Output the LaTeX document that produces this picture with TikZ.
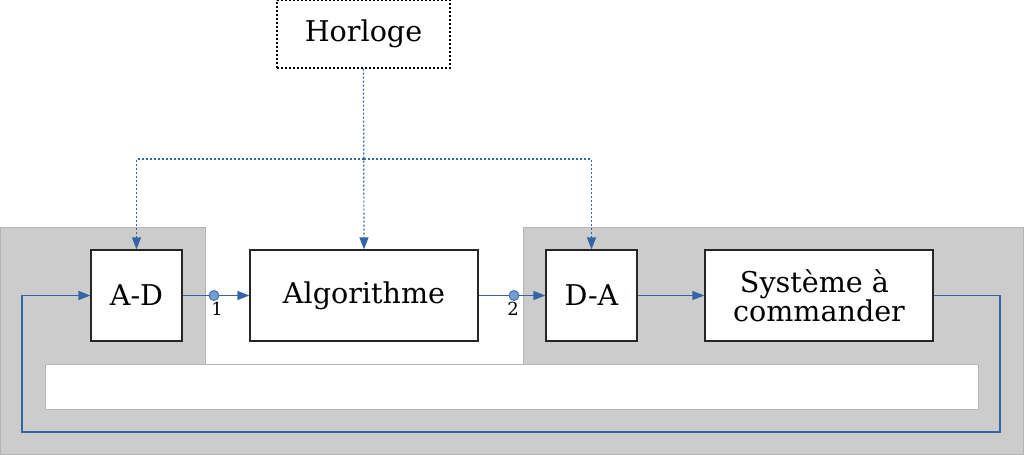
\documentclass[tikz,border=0pt]{standalone}
\usepackage{fontspec}
\setmainfont{DejaVu Serif}
\usetikzlibrary{arrows.meta}
\definecolor{lnk}{HTML}{3465A4}
\definecolor{bgc}{HTML}{CCCCCC}
\definecolor{bgline}{HTML}{B5B5B5}
\definecolor{dotfill}{HTML}{729FCF}
\begin{document}
\begin{tikzpicture}[x=0.5pt,y=-0.5pt,
  blk/.style={draw=black!85,line width=0.6pt,fill=white,inner sep=0pt,minimum height=45.5pt,font=\fontsize{14.3}{14.5}\selectfont,align=center},
  clockbox/.style={draw=black,line width=0.6pt,dash pattern=on 1pt off 1pt,fill=white,inner sep=0pt,minimum width=86.5pt,minimum height=34pt,font=\fontsize{14.3}{15}\selectfont},
  conn/.style={draw=lnk,line width=0.6pt,-{Triangle[length=6pt,width=4.5pt]}},
  plain/.style={draw=lnk,line width=0.6pt},
  clk/.style={draw=lnk,line width=0.6pt,dash pattern=on 1pt off 1pt,-{Triangle[length=6pt,width=4.5pt]}},
  dotn/.style={circle,draw=lnk,line width=0.4pt,fill=dotfill,inner sep=0pt,minimum size=5pt},
  lbl/.style={inner sep=0pt,font=\fontsize{9}{10}\selectfont}
]
\useasboundingbox (0,0) rectangle (1024,455);
\filldraw[fill=bgc,draw=bgline,line width=0.5pt] (0.5,227) -- (205,227) -- (205,364) -- (523,364) -- (523,227) -- (1023.5,227) -- (1023.5,454.5) -- (0.5,454.5) -- cycle;
\filldraw[fill=white,draw=bgline,line width=0.5pt] (45,364) rectangle (978,409);

\node[clockbox] (hor) at (363.5,34) {Horloge};
\node[blk,minimum width=45.5pt] (ad) at (136.5,295.5) {A-D};
\node[blk,minimum width=114pt] (alg) at (364,295.5) {Algorithme};
\node[blk,minimum width=45.5pt] (da) at (591.5,295.5) {D-A};
\node[blk,minimum width=114pt] (sys) at (819,295.5) {Système à\hspace*{0.32em}\\commander};

\node[dotn] (p1) at (214,295.5) {};
\node[dotn] (p2) at (514,295.5) {};
\node[lbl] (l1) at (217,309) {1};
\node[lbl] (l2) at (513,309) {2};

\coordinate (br) at (364,159);
\coordinate (fbR) at (1000,432);
\coordinate (fbL) at (22,432);

\draw[plain] (ad.east) -- (p1.west);
\draw[conn] (p1.east) -- (alg.west);
\draw[plain] (alg.east) -- (p2.west);
\draw[conn] (p2.east) -- (da.west);
\draw[conn] (da.east) -- (sys.west);
\draw[conn] (sys.east) -| (fbR) -- (fbL) |- (ad.west);

\draw[clk] (hor.south) -- (alg.north);
\draw[clk] (br) -| (ad.north);
\draw[clk] (br) -| (da.north);
\end{tikzpicture}
\end{document}
